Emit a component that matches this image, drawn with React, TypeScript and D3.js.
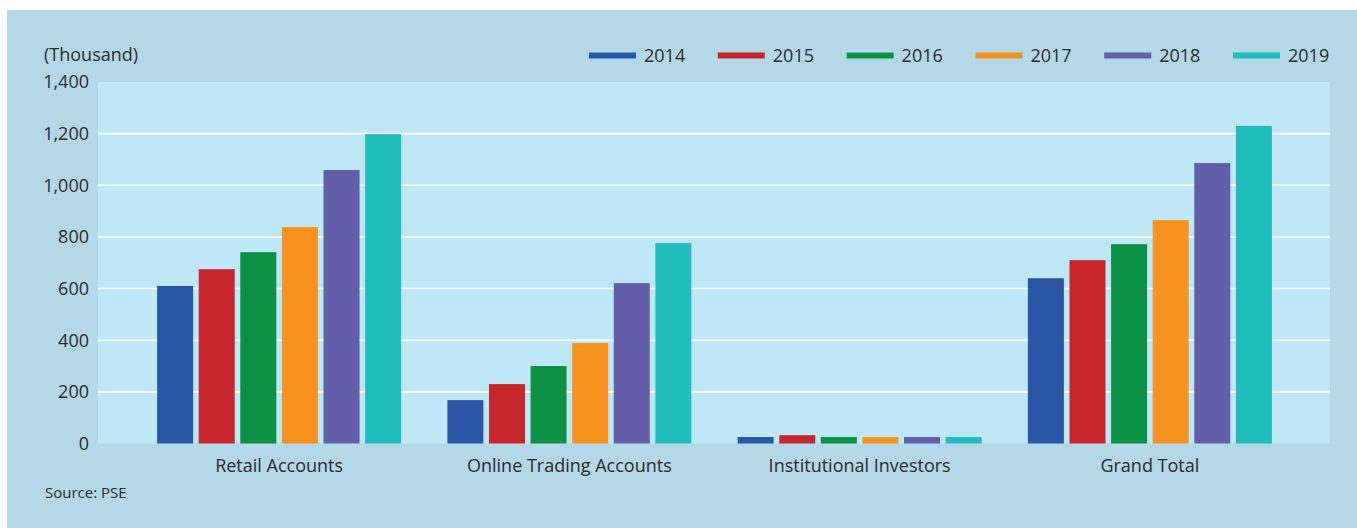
import React from "react";
import * as d3 from "d3";

const categories = ["Retail Accounts", "Online Trading Accounts", "Institutional Investors", "Grand Total"];
const years = ["2014", "2015", "2016", "2017", "2018", "2019"];
const v2014 = [610, 168, 25, 640];
const v2015 = [675, 230, 32, 710];
const v2016 = [741, 300, 25, 772];
const v2017 = [838, 389, 25, 865];
const v2018 = [1059, 621, 25, 1086];
const v2019 = [1198, 776, 25, 1230];
const seriesValues = [v2014, v2015, v2016, v2017, v2018, v2019];
const colors = ["#2a56a5", "#c9252c", "#0c9144", "#f7931e", "#635ea9", "#21bcbe"];
const yTicks = [0, 200, 400, 600, 800, 1000, 1200, 1400];

const W = 1357, H = 528;
const plotL = 98, plotR = 1330, plotT = 82, plotB = 443.5;
const font = "'Open Sans', 'Noto Sans', sans-serif";
const textColor = "#2b2b2b";

export default function App() {
  const y = d3.scaleLinear().domain([0, 1400]).range([plotB, plotT]);
  const x0 = d3.scaleBand().domain(categories).range([134, 1295]).paddingInner(0).paddingOuter(0);
  const step = 41.6;
  const barW = 36;
  const fmt = d3.format(",");
  const legendX = d3.scalePoint().domain(years).range([589, 1233]);

  return (
    <svg width={W} height={H} style={{ position: "absolute", left: 0, top: 0 }}>
      <rect x={7} y={10} width={W - 7} height={H - 10} fill="#b3d8e7" />
      <rect x={plotL} y={plotT} width={plotR - plotL} height={plotB - plotT} fill="#bee7f8" />
      {yTicks.filter(t => t > 0 && t < 1400).map(t => (
        <line key={t} x1={plotL} x2={plotR} y1={y(t)} y2={y(t)} stroke="#ffffff" strokeWidth={1.6} />
      ))}
      {yTicks.map(t => (
        <text key={t} x={89} y={y(t)} dy="0.35em" textAnchor="end" fontFamily={font} fontSize={18} fill={textColor}>
          {fmt(t)}
        </text>
      ))}
      <text x={44} y={61} fontFamily={font} fontSize={18} fill={textColor}>(Thousand)</text>
      {categories.map((c, ci) => {
        const cx = (x0(c) as number) + x0.bandwidth() / 2;
        return (
          <g key={c}>
            {seriesValues.map((vals, si) => {
              const left = cx + (si - 2.5) * step - barW / 2;
              return (
                <rect key={si} x={left} y={y(vals[ci])} width={barW} height={plotB - y(vals[ci])} fill={colors[si]} />
              );
            })}
            <text x={cx} y={472} textAnchor="middle" fontFamily={font} fontSize={18} fill={textColor}>{c}</text>
          </g>
        );
      })}
      {years.map((yr, i) => {
        const lx = legendX(yr) as number;
        return (
          <g key={yr}>
            <rect x={lx} y={52.5} width={47} height={6} fill={colors[i]} />
            <text x={lx + 55} y={55.5} dy="0.35em" fontFamily={font} fontSize={18} fill={textColor}>{yr}</text>
          </g>
        );
      })}
      <text x={45} y={498} fontFamily={font} fontSize={15} fill={textColor}>Source: PSE</text>
    </svg>
  );
}
